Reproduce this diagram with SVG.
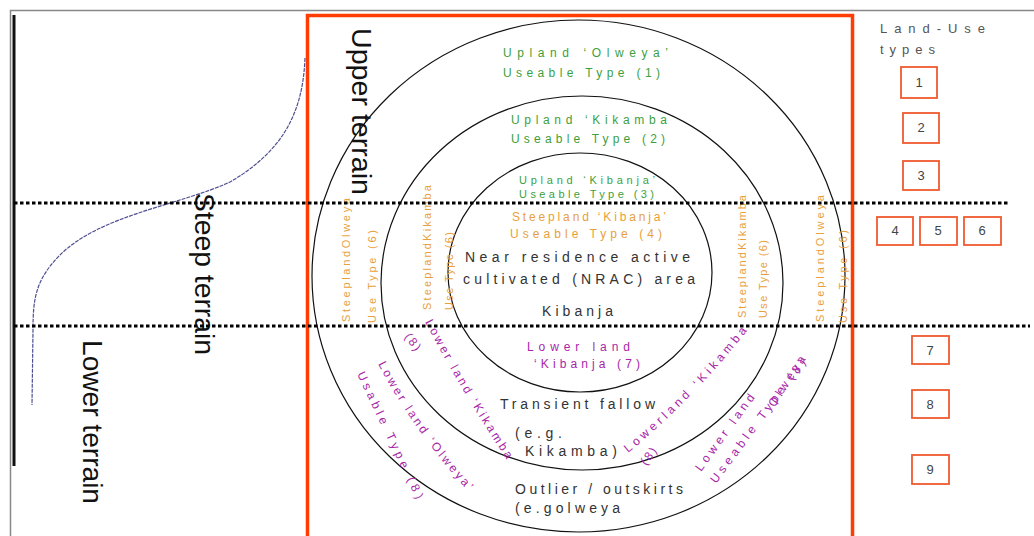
<svg xmlns="http://www.w3.org/2000/svg" width="1034" height="536" viewBox="0 0 1034 536">
<style>
text{font-family:"Liberation Sans",Arial,sans-serif}
.big{font-size:28px;fill:#111}
.g{font-size:12px;fill:#3c9f3c}
.o{font-size:12px;fill:#e9a03a}
.ov{font-size:11px;fill:#e9a03a}
.p{font-size:12px;fill:#a826a8}
.k{font-size:14px;fill:#333}
.ring{fill:none;stroke:#111;stroke-width:1.2}
.dot{stroke:#000;stroke-width:3;stroke-dasharray:3.5 2.5;fill:none}
.box{fill:#fff;stroke:#f05a30;stroke-width:1.8}
.num{font-size:13px;fill:#444;text-anchor:middle}
.leg{font-size:13px;fill:#555}
</style>
<defs>
<path id="pLO1" d="M378,364 Q415,433 469,492"/>
<path id="pLO2" d="M357,374 Q387,438 418,503"/>
<path id="pLM" d="M425,322 Q463,394 509,463"/>
<path id="pRM" d="M628,453 Q695,398 750,327"/>
</defs>
<rect width="1034" height="536" fill="#fff"/>
<rect x="10.5" y="10.5" width="1030" height="530" fill="none" stroke="#888" stroke-width="1.5"/>

<g id="terrain-axis">
<line x1="14" y1="15" x2="14" y2="466" stroke="#111" stroke-width="3"/>
<path d="M305,58 C303,110 285,150 230,182 C180,205 100,215 60,255 C35,280 33,300 33,330 L32,405" fill="none" stroke="#4e4e92" stroke-width="1.2" stroke-dasharray="4 1"/>
<text class="big" transform="translate(352,28) rotate(90)" textLength="167" lengthAdjust="spacingAndGlyphs">Upper terrain</text>
<text class="big" transform="translate(195,193) rotate(90)" textLength="162" lengthAdjust="spacingAndGlyphs">Steep terrain</text>
<text class="big" transform="translate(83,340) rotate(90)" textLength="164" lengthAdjust="spacingAndGlyphs">Lower terrain</text>
</g>

<g id="frame">
<rect x="307.5" y="15.5" width="545" height="540" fill="none" stroke="#ff3d00" stroke-width="3.5"/>
</g>

<g id="rings">
<ellipse class="ring" cx="578.5" cy="276" rx="266.5" ry="256"/>
<ellipse class="ring" cx="582" cy="283" rx="201" ry="187"/>
<ellipse class="ring" cx="580" cy="272.5" rx="132" ry="119.5"/>
</g>

<g id="upland">
<text class="g" x="503" y="57" textLength="165">Upland ‘Olweya’</text>
<text class="g" x="503" y="77" textLength="157">Useable Type (1)</text>
<text class="g" x="511" y="124" textLength="156">Upland ‘Kikamba</text>
<text class="g" x="511" y="143" textLength="154">Useable Type (2)</text>
<text class="g" x="519" y="184" textLength="136" style="font-size:11px">Upland ‘Kibanja’</text>
<text class="g" x="519" y="198" textLength="135" style="font-size:11px">Useable Type (3)</text>
</g>

<g id="steepland">
<text class="o" x="512" y="221" textLength="154">Steepland ‘Kibanja’</text>
<text class="o" x="510" y="238" textLength="152">Useable Type (4)</text>
<text class="ov" transform="translate(350,322) rotate(-90)" textLength="124">SteeplandOlweya</text>
<text class="ov" transform="translate(376,323) rotate(-90)" textLength="93">Use Type (6)</text>
<text class="ov" transform="translate(431,310) rotate(-90)" textLength="125">SteeplandKikamba</text>
<text class="ov" transform="translate(453,310) rotate(-90)" textLength="78">Use Type (6)</text>
<text class="ov" transform="translate(746,318) rotate(-90)" textLength="123">SteeplandKikamba</text>
<text class="ov" transform="translate(767,318) rotate(-90)" textLength="78">Use Type (6)</text>
<text class="ov" transform="translate(824,322) rotate(-90)" textLength="127">SteeplandOlweya</text>
<text class="ov" transform="translate(847,323) rotate(-90)" textLength="93">Use Type (6)</text>
</g>

<g id="nrac">
<text class="k" x="465" y="262" textLength="225">Near residence active</text>
<text class="k" x="463" y="284" textLength="232">cultivated (NRAC) area</text>
<text class="k" x="542" y="316" textLength="71">Kibanja</text>
</g>

<g id="lowerland">
<text class="p" x="527" y="351" textLength="103">Lower land</text>
<text class="p" x="534" y="368" textLength="106">‘Kibanja (7)</text>
<text class="p" letter-spacing="2.7"><textPath href="#pLO1">Lower land ‘Olweya’</textPath></text>
<text class="p" letter-spacing="3.9"><textPath href="#pLO2">Usable Type (8)</textPath></text>
<text class="p" letter-spacing="2" transform="translate(404,337) rotate(52)">(8)</text>
<text class="p" letter-spacing="2.7"><textPath href="#pLM">Lower land ‘Kikamba</textPath></text>
<text class="p" letter-spacing="3.7"><textPath href="#pRM">Lowerland ‘Kikamba</textPath></text>
<text class="p" letter-spacing="2" transform="translate(646,466) rotate(-52)">(8)</text>
<text class="p" letter-spacing="3.7" transform="translate(701,472) rotate(-54)">Lower land</text>
<text class="p" letter-spacing="4" transform="translate(716,484) rotate(-53.4)">Useable Type (8)</text>
<text class="p" letter-spacing="3.6" transform="translate(771,413) rotate(-57)">‘Olweya</text>
</g>

<g id="fallow">
<text class="k" x="500" y="409" textLength="155">Transient fallow</text>
<text class="k" x="515" y="438" textLength="47">(e.g.</text>
<text class="k" x="525" y="456" textLength="92">Kikamba)</text>
</g>

<g id="outlier">
<text class="k" x="515" y="494" textLength="168">Outlier / outskirts</text>
<text class="k" x="515" y="513" textLength="105">(e.golweya</text>
</g>

<g id="connectors">
<line class="dot" x1="14" y1="203" x2="1010" y2="203"/>
<line class="dot" x1="14" y1="326" x2="1030" y2="326"/>
</g>

<g id="legend">
<text class="leg" x="880" y="33" textLength="105">Land-Use</text>
<text class="leg" x="880" y="54" textLength="55">types</text>
</g>
<g id="t1"><rect class="box" x="901" y="67" width="36" height="31"/><text class="num" x="919" y="87">1</text></g>
<g id="t2"><rect class="box" x="903" y="113" width="36" height="30"/><text class="num" x="921" y="132">2</text></g>
<g id="t3"><rect class="box" x="903" y="161" width="36" height="29"/><text class="num" x="921" y="180">3</text></g>
<g id="t4"><rect class="box" x="877" y="217" width="36" height="28"/><text class="num" x="895" y="235">4</text></g>
<g id="t5"><rect class="box" x="920" y="217" width="37" height="28"/><text class="num" x="938" y="235">5</text></g>
<g id="t6"><rect class="box" x="964" y="217" width="37" height="28"/><text class="num" x="982" y="235">6</text></g>
<g id="t7"><rect class="box" x="912" y="336" width="37" height="28"/><text class="num" x="930" y="355">7</text></g>
<g id="t8"><rect class="box" x="912" y="390" width="37" height="28"/><text class="num" x="930" y="409">8</text></g>
<g id="t9"><rect class="box" x="912" y="455" width="37" height="29"/><text class="num" x="930" y="474">9</text></g>
</svg>
